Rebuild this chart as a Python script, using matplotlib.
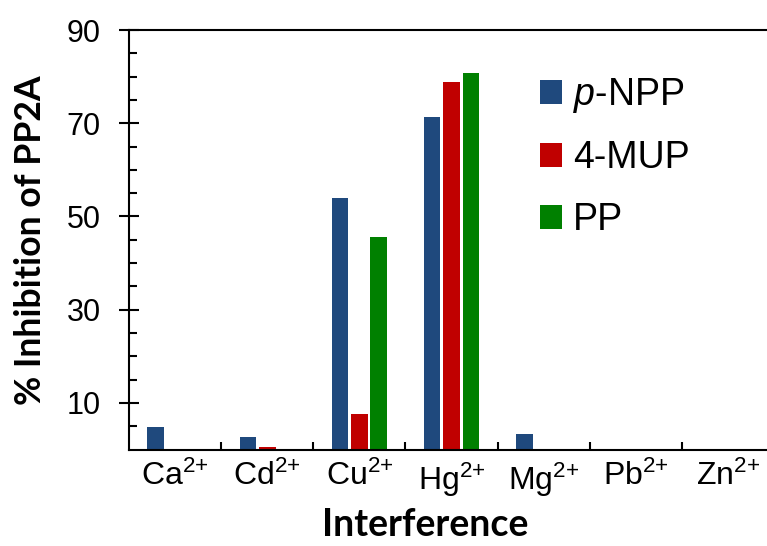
import numpy as np
import matplotlib
matplotlib.use('Agg')
import matplotlib.pyplot as plt

plt.rcParams['font.family'] = ['Liberation Sans', 'DejaVu Sans']
plt.rcParams['mathtext.fontset'] = 'custom'
plt.rcParams['mathtext.rm'] = 'Liberation Sans'
plt.rcParams['mathtext.it'] = 'Liberation Sans:italic'

# data
ions = ['Ca', 'Cd', 'Cu', 'Hg', 'Mg', 'Pb', 'Zn']
pnpp = [4.8, 2.7, 54.0, 71.3, 3.3, 0.0, 0.0]
mup = [0.0, 0.5, 7.6, 78.8, 0.0, 0.0, 0.0]
pp = [0.0, 0.0, 45.6, 80.8, 0.0, 0.0, 0.0]
series = ['$p$-NPP', '4-MUP', 'PP']
colors = ['#1F497D', '#C00000', '#008000']

W, H = 767, 546
fig = plt.figure(figsize=(W / 100, H / 100), dpi=100)
ax = fig.add_axes([129 / W, 1 - 449.5 / H, (774 - 129) / W, (449.5 - 30) / H])

x = np.arange(len(ions))
bw = 0.18
off = 0.21
for k, (vals, lab, c) in enumerate(zip([pnpp, mup, pp], series, colors)):
    ax.bar(x + (k - 1) * off, vals, width=bw, color=c, label=lab, linewidth=0)

ax.set_xlim(-0.5, len(ions) - 0.5)
ax.set_ylim(0, 90)
ax.set_yticks([10, 30, 50, 70, 90])
ax.set_yticks(np.arange(5, 90, 5), minor=True)
ax.set_xticks(x)
ax.set_xticklabels([i + '$^{2{+}}$' for i in ions])
ax.set_xticks(x[:-1] + 0.5, minor=True)

ax.spines['right'].set_visible(False)
for s in ['left', 'top', 'bottom']:
    ax.spines[s].set_linewidth(1.5)

ax.tick_params(axis='y', which='major', direction='inout', length=14, width=1.5,
               labelsize=22, pad=13.5)
ax.tick_params(axis='y', which='minor', direction='in', length=6, width=1.5)
ax.tick_params(axis='x', which='major', length=0, labelsize=23, pad=8)
ax.tick_params(axis='x', which='minor', direction='in', length=6, width=1.5)

fig.text(31 / W, 1 - 240 / H, '% Inhibition of PP2A', rotation=90, ha='center', va='center',
         fontsize=25.7, fontweight='bold', family=['Lato', 'DejaVu Sans'])
fig.text(425 / W, 1 - 536 / H, 'Interference', ha='center', va='baseline',
         fontsize=27, fontweight='bold', family=['Lato', 'DejaVu Sans'])

leg = ax.legend(loc='upper left', bbox_to_anchor=(540 / W, 1 - 76 / H),
                bbox_transform=fig.transFigure, frameon=False, fontsize=27,
                handlelength=0.59, handleheight=0.59, handletextpad=0.29,
                labelspacing=0.68, borderpad=0, borderaxespad=0)

fig.savefig('out.png', dpi=100)
